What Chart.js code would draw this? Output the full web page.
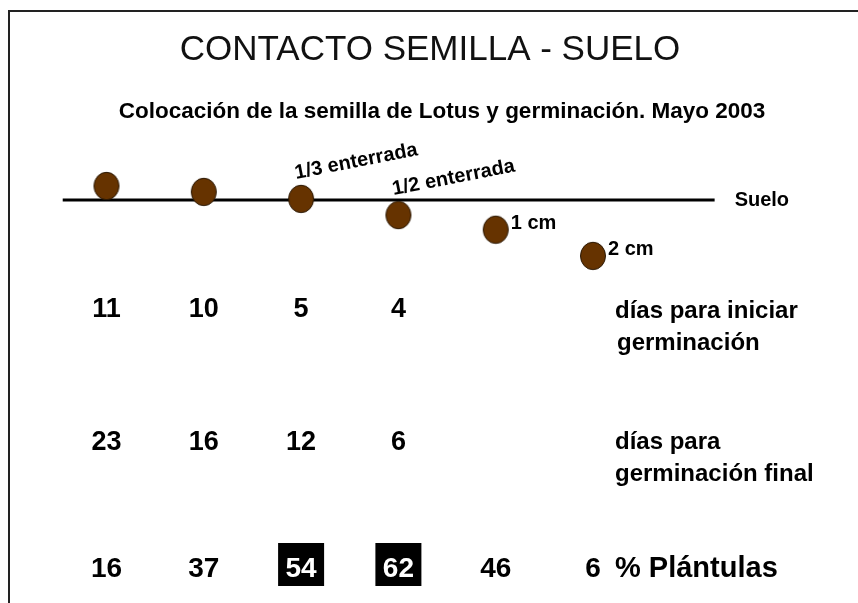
<!DOCTYPE html>
<html>
<head>
<meta charset="utf-8">
<script src="https://cdn.jsdelivr.net/npm/chart.js@4.4.0/dist/chart.umd.min.js"></script>
<style>
  html, body { margin: 0; padding: 0; background: #fff; }
  canvas { display: block; }
</style>
</head>
<body>
<canvas id="chart" width="858" height="603"></canvas>
<script>
  // posición de la semilla en cada tratamiento
  var columnas = ['Sobre el suelo', 'Apoyada', '1/3 enterrada', '1/2 enterrada', '1 cm', '2 cm'];
  // rótulo junto a cada semilla
  var rotulos = [null, null, '1/3 enterrada', '1/2 enterrada', '1 cm', '2 cm'];
  // profundidad del centro de la semilla (cm, positivo = bajo el suelo)
  var profundidad = [-0.52, -0.3, -0.04, 0.56, 1.1, 2.07];
  // resultados
  var diasInicio = [11, 10, 5, 4, null, null];
  var diasFinal = [23, 16, 12, 6, null, null];
  var plantulas = [16, 37, 54, 62, 46, 6];

  var FONT = '"Liberation Sans", Arial, sans-serif';

  function semilla() {
    var c = document.createElement('canvas');
    c.width = 28; c.height = 30;
    var g = c.getContext('2d');
    g.beginPath();
    g.ellipse(14, 15, 12.5, 13.7, 0, 0, Math.PI * 2);
    g.fillStyle = '#663300';
    g.fill();
    g.lineWidth = 1;
    g.strokeStyle = '#2a1805';
    g.stroke();
    return c;
  }

  var rotulosPlugin = {
    id: 'rotulos',
    beforeDraw: function (chart) {
      var ctx = chart.ctx;
      ctx.save();
      ctx.fillStyle = '#fff';
      ctx.fillRect(0, 0, chart.width, chart.height);
      ctx.restore();
    },
    afterDatasetsDraw: function (chart) {
      var ctx = chart.ctx;
      var sx = chart.scales.x, sy = chart.scales.y;
      ctx.save();

      // marco
      ctx.strokeStyle = '#222';
      ctx.lineWidth = 2;
      ctx.beginPath();
      ctx.moveTo(9, chart.height);
      ctx.lineTo(9, 11);
      ctx.lineTo(chart.width, 11);
      ctx.stroke();

      ctx.fillStyle = '#000';
      ctx.textAlign = 'center';
      ctx.textBaseline = 'alphabetic';
      ctx.font = '35px ' + FONT;
      ctx.fillStyle = '#111';
      ctx.fillText('CONTACTO SEMILLA - SUELO', 430, 60);
      ctx.fillStyle = '#000';
      ctx.font = 'bold 22.5px ' + FONT;
      ctx.fillText('Colocación de la semilla de Lotus y germinación. Mayo 2003', 442, 118);

      // rótulos de las semillas
      ctx.font = 'bold 20px ' + FONT;
      ctx.textAlign = 'left';
      rotulos.forEach(function (r, i) {
        if (!r) return;
        var px = sx.getPixelForValue(i), py = sy.getPixelForValue(profundidad[i]);
        if (r.indexOf('enterrada') >= 0) {
          ctx.save();
          ctx.translate(px - 5, py - 20);
          ctx.rotate(-11 * Math.PI / 180);
          ctx.fillText(r, 0, 0);
          ctx.restore();
        } else {
          ctx.textBaseline = 'middle';
          ctx.fillText(r, px + 15, py - 6);
          ctx.textBaseline = 'alphabetic';
        }
      });
      ctx.textBaseline = 'middle';
      ctx.fillText('Suelo', sx.getPixelForValue(6.25) + 20, sy.getPixelForValue(0));

      // filas de valores
      ctx.textBaseline = 'alphabetic';
      function fila(valores, base, size) {
        valores.forEach(function (v, i) {
          if (v === null) return;
          var px = sx.getPixelForValue(i);
          ctx.font = 'bold ' + size + 'px ' + FONT;
          ctx.textAlign = 'center';
          if (v > 50 && valores === plantulas) {
            ctx.fillStyle = '#000';
            ctx.fillRect(px - 23, base - 34, 46, 43);
            ctx.fillStyle = '#fff';
            ctx.fillText(String(v), px, base);
            ctx.fillStyle = '#000';
          } else {
            ctx.fillText(String(v), px, base);
          }
        });
      }
      fila(diasInicio, 317, 27);
      fila(diasFinal, 450, 27);
      fila(plantulas, 577, 28);

      ctx.textAlign = 'left';
      ctx.font = 'bold 24px ' + FONT;
      ctx.fillText('días para iniciar', 615, 318);
      ctx.fillText('germinación', 617, 350);
      ctx.fillText('días para', 615, 449);
      ctx.fillText('germinación final', 615, 481);
      ctx.font = 'bold 29px ' + FONT;
      ctx.fillText('% Plántulas', 615, 577);

      ctx.restore();
    }
  };

  var datos = columnas.map(function (c, i) { return { x: i, y: profundidad[i] }; });

  new Chart(document.getElementById('chart'), {
    type: 'scatter',
    data: {
      datasets: [
        {
          label: 'Semilla',
          data: datos,
          pointStyle: semilla(),
          pointRadius: 14,
          clip: false,
          order: 0
        },
        {
          type: 'line',
          label: 'Suelo',
          data: [{ x: -0.45, y: 0 }, { x: 6.25, y: 0 }],
          borderColor: '#000',
          borderWidth: 3,
          pointRadius: 0,
          clip: false,
          order: 1
        }
      ]
    },
    options: {
      responsive: false,
      animation: false,
      events: [],
      layout: { padding: 0, autoPadding: false },
      plugins: { legend: { display: false }, tooltip: { enabled: false } },
      scales: {
        x: { type: 'linear', display: false, min: -106.5 / 97.3, max: (858 - 106.5) / 97.3 },
        y: { type: 'linear', display: false, reverse: true, min: -200 / 27, max: 403 / 27 }
      }
    },
    plugins: [rotulosPlugin]
  });
</script>
</body>
</html>
